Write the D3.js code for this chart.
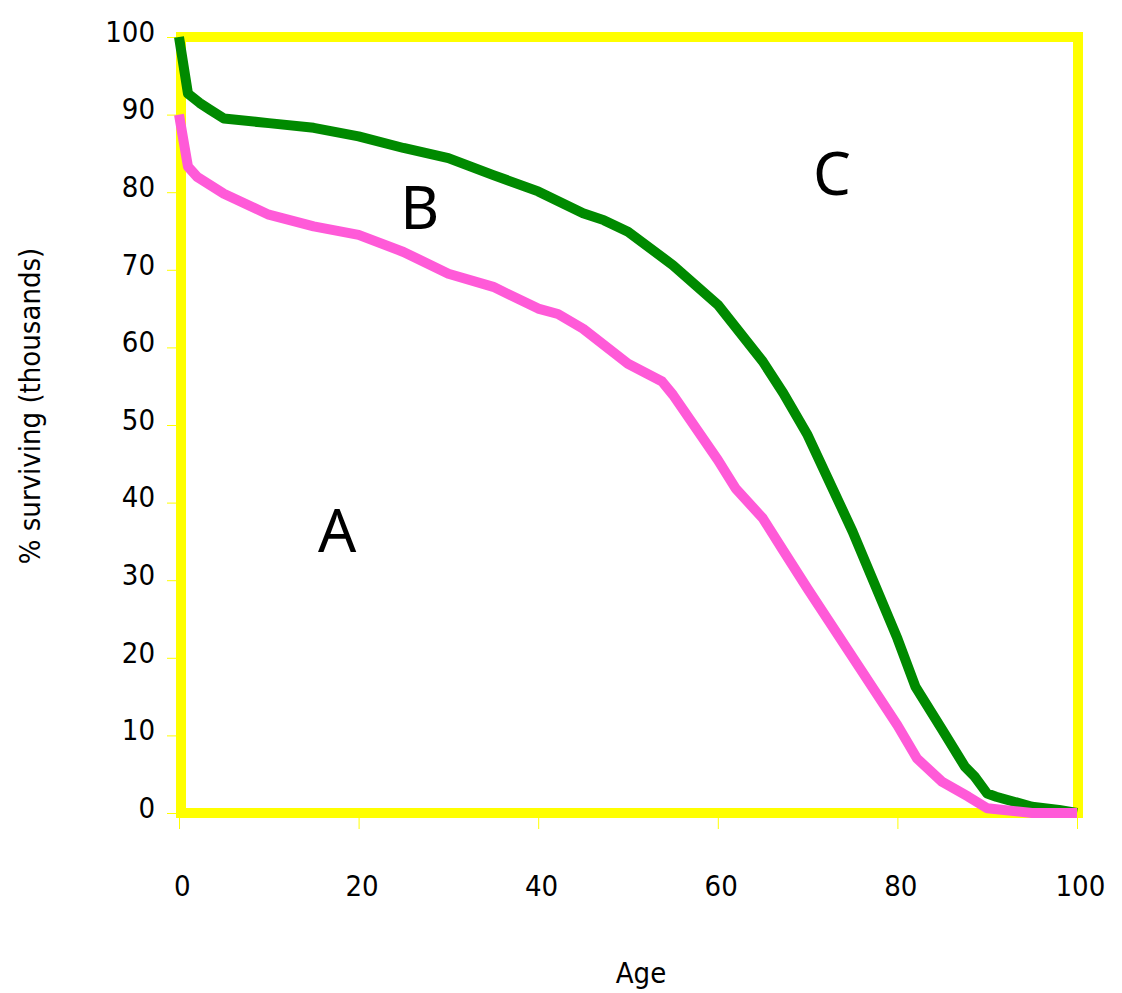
<!DOCTYPE html>
<html>
<head>
<meta charset="utf-8">
<script src="https://cdn.jsdelivr.net/npm/d3@7"></script>
<style>
  body { margin: 0; background: #fff; }
  svg { display: block; }
  .tick text { font-family: "DejaVu Sans Condensed", "DejaVu Sans", sans-serif; font-stretch: condensed; font-size: 29px; fill: #000; }
  .axis_title { font-family: "DejaVu Sans Condensed", "DejaVu Sans", sans-serif; font-stretch: condensed; font-size: 29px; fill: #000; }
  .region_label { font-family: "Noto Sans", "Open Sans", sans-serif; font-size: 60px; fill: #000; }
</style>
</head>
<body>
<script>
// survival curves (age, % surviving)
var greenAges   = [0, 1, 2.3, 3.5, 5, 10, 15, 20, 25, 30, 35, 40, 45, 47.3, 50, 55, 60, 65, 67.3, 70, 75, 80, 82, 85, 87.5, 88.6, 90, 91, 95, 98, 100];
var greenValues = [100, 92.7, 91.5, 90.6, 89.5, 88.9, 88.3, 87.2, 85.7, 84.4, 82.2, 80.1, 77.3, 76.4, 74.9, 70.6, 65.5, 58.2, 54.1, 48.7, 36.3, 22.5, 16.3, 10.7, 6.0, 4.7, 2.5, 2.1, 0.8, 0.4, 0];

var pinkAges   = [0, 1, 2, 5, 10, 15, 20, 25, 30, 35, 40, 42.2, 45, 50, 53.8, 55, 60, 62, 65, 67.3, 70, 75, 80, 82.2, 85, 87.9, 90, 95, 100];
var pinkValues = [90, 83.3, 82.0, 79.8, 77.1, 75.6, 74.5, 72.3, 69.5, 67.8, 65.0, 64.3, 62.4, 57.9, 55.6, 53.9, 45.5, 41.8, 38.0, 33.8, 28.9, 20.1, 11.3, 7.0, 4.0, 2.1, 0.6, 0, 0];

var xTicks = [0, 20, 40, 60, 80, 100];
var yTicks = [0, 10, 20, 30, 40, 50, 60, 70, 80, 90, 100];

var regionNames = ["A", "B", "C"];
var regionAges  = [17.6, 26.8, 72.7];
var regionVals  = [33.6, 75.3, 79.7];

var width = 1122, height = 993;

var svg = d3.select("body").append("svg")
    .attr("width", width)
    .attr("height", height);

var x = d3.scaleLinear().domain([0, 100]).range([179, 1077]);
var y = d3.scaleLinear().domain([0, 100]).range([813, 37]);

// yellow plot frame
svg.append("rect")
    .attr("x", x(0) + 2)
    .attr("y", y(100))
    .attr("width", x(100) - x(0) - 1)
    .attr("height", y(0) - y(100))
    .attr("fill", "none")
    .attr("stroke", "#ffff00")
    .attr("stroke-width", 10);

var yAxis = svg.append("g")
    .attr("transform", "translate(176,0)")
    .call(d3.axisLeft(y).tickValues(yTicks).tickSize(9).tickPadding(12));

yAxis.select(".domain").remove();
yAxis.selectAll(".tick line").attr("stroke", "#ffff00").attr("stroke-width", 1);
yAxis.selectAll(".tick text").attr("dy", "0.15em");

var xAxis = svg.append("g")
    .attr("transform", "translate(0,818)")
    .call(d3.axisBottom(x).tickValues(xTicks).tickSize(11).tickPadding(46));

xAxis.select(".domain").remove();
xAxis.selectAll(".tick line").attr("stroke", "#ffff00").attr("stroke-width", 1);
xAxis.selectAll(".tick text").attr("dx", "0.1em");

var line = d3.line()
    .x(function(d) { return x(d[0]); })
    .y(function(d) { return y(d[1]); });

svg.append("path")
    .datum(d3.zip(greenAges, greenValues))
    .attr("d", line)
    .attr("fill", "none")
    .attr("stroke", "#008a00")
    .attr("stroke-width", 10)
    .attr("stroke-linejoin", "round");

svg.append("path")
    .datum(d3.zip(pinkAges, pinkValues))
    .attr("d", line)
    .attr("fill", "none")
    .attr("stroke", "#ff5ad8")
    .attr("stroke-width", 10)
    .attr("stroke-linejoin", "round");

svg.selectAll(".region_label")
    .data(d3.zip(regionNames, regionAges, regionVals))
    .enter().append("text")
    .attr("class", "region_label")
    .attr("text-anchor", "middle")
    .attr("x", function(d) { return x(d[1]); })
    .attr("y", function(d) { return y(d[2]); })
    .text(function(d) { return d[0]; });

svg.append("text")
    .attr("class", "axis_title")
    .attr("text-anchor", "middle")
    .attr("x", 641)
    .attr("y", 983)
    .text("Age");

svg.append("text")
    .attr("class", "axis_title")
    .attr("text-anchor", "middle")
    .attr("transform", "translate(40,406) rotate(-90)")
    .text("% surviving (thousands)");
</script>
</body>
</html>
